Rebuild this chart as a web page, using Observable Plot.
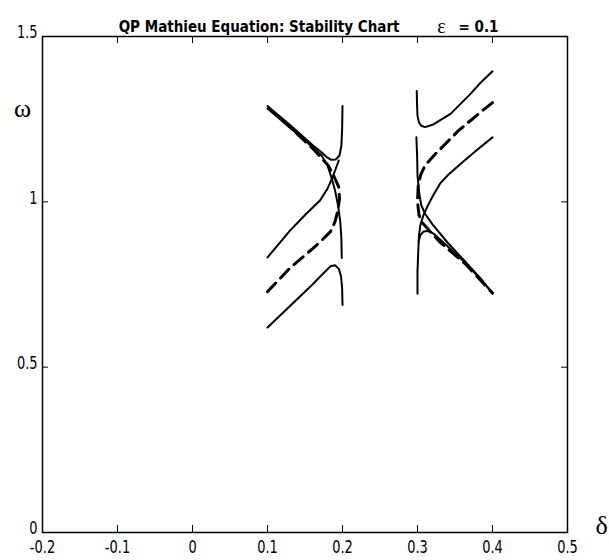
<!DOCTYPE html>
<html>
<head>
<meta charset="utf-8">
<script src="https://cdn.jsdelivr.net/npm/d3@7"></script>
<script src="https://cdn.jsdelivr.net/npm/@observablehq/plot@0.6"></script>
<style>
  html, body { margin: 0; padding: 0; background: #fff; }
</style>
</head>
<body>
<div id="chart"></div>
<script>
// ---- text ----
const titleText = "QP Mathieu Equation: Stability Chart";
const epsSymbol = "ε";
const epsValueText = "= 0.1";
const yAxisSymbol = "ω";
const xAxisSymbol = "δ";

// ---- ticks ----
const xTicks = [-0.2, -0.1, 0, 0.1, 0.2, 0.3, 0.4, 0.5];
const xTickLabels = ["-0.2", "-0.1", "0", "0.1", "0.2", "0.3", "0.4", "0.5"];
const yTicks = [0, 0.5, 1, 1.5];
const yTickLabels = ["0", "0.5", "1", "1.5"];

// ---- curves (delta, omega) ----
// left group (delta 0.1 .. 0.2)
const u1Delta = [0.100, 0.130, 0.160, 0.172, 0.179, 0.185, 0.191, 0.196, 0.1985, 0.1995, 0.200];
const u1Omega = [1.290, 1.232, 1.172, 1.150, 1.135, 1.127, 1.128, 1.140, 1.170, 1.220, 1.290];
const d1Delta = [0.100, 0.130, 0.160, 0.172, 0.180, 0.185, 0.190, 0.194, 0.197, 0.1985, 0.199];
const d1Omega = [1.282, 1.224, 1.166, 1.140, 1.110, 1.075, 1.035, 0.990, 0.940, 0.890, 0.830];
const m1Delta = [0.100, 0.130, 0.150, 0.170, 0.180, 0.186, 0.191, 0.195];
const m1Omega = [0.832, 0.913, 0.960, 1.004, 1.040, 1.070, 1.100, 1.125];
const l1Delta = [0.100, 0.130, 0.160, 0.175, 0.184, 0.190, 0.195, 0.198, 0.1995, 0.200];
const l1Omega = [0.620, 0.685, 0.750, 0.785, 0.805, 0.808, 0.798, 0.775, 0.740, 0.688];
const dash1Delta = [0.100, 0.130, 0.160, 0.172, 0.184, 0.190, 0.194, 0.196, 0.195, 0.188, 0.181, 0.160, 0.130, 0.100];
const dash1Omega = [0.728, 0.800, 0.858, 0.883, 0.910, 0.940, 0.975, 1.010, 1.045, 1.080, 1.110, 1.162, 1.226, 1.286];
// right group (delta 0.3 .. 0.4)
const u2Delta = [0.299, 0.2993, 0.300, 0.302, 0.305, 0.310, 0.320, 0.344, 0.370, 0.384, 0.400];
const u2Omega = [1.335, 1.300, 1.260, 1.240, 1.230, 1.226, 1.233, 1.266, 1.325, 1.360, 1.395];
const v2Delta = [0.2985, 0.2995, 0.300, 0.302, 0.305, 0.310, 0.320, 0.340, 0.364, 0.385, 0.400];
const v2Omega = [1.195, 1.140, 1.080, 1.030, 0.990, 0.964, 0.932, 0.877, 0.818, 0.766, 0.722];
const m2Delta = [0.400, 0.380, 0.360, 0.341, 0.330, 0.321, 0.313, 0.308, 0.304, 0.302, 0.301, 0.300, 0.300];
const m2Omega = [1.195, 1.158, 1.120, 1.082, 1.055, 1.020, 0.985, 0.960, 0.932, 0.900, 0.850, 0.790, 0.722];
const l2Delta = [0.3015, 0.304, 0.308, 0.314, 0.322, 0.340, 0.364, 0.385, 0.400];
const l2Omega = [0.880, 0.900, 0.910, 0.912, 0.903, 0.866, 0.815, 0.764, 0.725];
const dash2Delta = [0.400, 0.384, 0.355, 0.326, 0.310, 0.304, 0.301, 0.300, 0.302, 0.307, 0.330, 0.364, 0.400];
const dash2Omega = [1.300, 1.271, 1.216, 1.150, 1.110, 1.080, 1.050, 1.000, 0.960, 0.935, 0.878, 0.812, 0.724];

const solidCurves = [
  ["U1", u1Delta, u1Omega], ["D1", d1Delta, d1Omega], ["M1", m1Delta, m1Omega], ["L1", l1Delta, l1Omega],
  ["U2", u2Delta, u2Omega], ["V2", v2Delta, v2Omega], ["M2", m2Delta, m2Omega], ["L2", l2Delta, l2Omega]
];
const dashedCurves = [["S1", dash1Delta, dash1Omega], ["S2", dash2Delta, dash2Omega]];

function toRows(curves) {
  const rows = [];
  for (const [name, ds, ws] of curves) ds.forEach((d, i) => rows.push({curve: name, delta: d, omega: ws[i]}));
  return rows;
}
const solidRows = toRows(solidCurves);
const dashedRows = toRows(dashedCurves);

// ---- layout ----
const W = 609, H = 560;
const mL = 42, mR = 42, mT = 36, mB = 28;
const frameW = W - mL - mR, frameH = H - mT - mB;
const sansFont = "'Liberation Sans Narrow', 'Arial Narrow', 'DejaVu Sans Condensed', sans-serif";
const serif = "'Liberation Serif', 'DejaVu Serif', serif";

const chart = Plot.plot({
  width: W, height: H,
  marginLeft: mL, marginRight: mR, marginTop: mT, marginBottom: mB,
  style: {fontFamily: sansFont, fontSize: "18px", color: "black", background: "white"},
  x: {domain: [-0.2, 0.5]},
  y: {domain: [0, 1.5]},
  marks: [
    Plot.frame({stroke: "black", strokeWidth: 1.5}),
    // inward ticks (box style)
    Plot.tickX(xTicks, {x: d => d, insetTop: frameH - 7, stroke: "black"}),
    Plot.tickX(xTicks, {x: d => d, insetBottom: frameH - 7, stroke: "black"}),
    Plot.tickY(yTicks, {y: d => d, insetRight: frameW - 6, stroke: "black"}),
    Plot.tickY(yTicks, {y: d => d, insetLeft: frameW - 6, stroke: "black"}),
    Plot.axisX({ticks: xTicks, tickSize: 0, tickPadding: 8, fontSize: 18, tickFormat: (d) => xTickLabels[xTicks.indexOf(d)], label: null, className: "tk"}),
    Plot.axisY({ticks: yTicks, tickSize: 0, tickPadding: 5, dy: -4, fontSize: 18, tickFormat: (d) => yTickLabels[yTicks.indexOf(d)], label: null, className: "tk"}),
    // curves
    Plot.line(solidRows, {x: "delta", y: "omega", z: "curve", stroke: "black", strokeWidth: 2}),
    Plot.line(dashedRows, {x: "delta", y: "omega", z: "curve", stroke: "black", strokeWidth: 3, strokeDasharray: "12,7"}),
    // title & symbols
    Plot.text([titleText], {text: d => d, frameAnchor: "top-left", dx: 357, dy: -15, textAnchor: "end",
      fontSize: 15, fontWeight: "bold", fontFamily: sansFont, fill: "black"}),
    Plot.text([epsSymbol], {text: d => d, frameAnchor: "top-left", dx: 399, dy: -18, textAnchor: "middle",
      fontSize: 20, fontFamily: serif, fill: "black"}),
    Plot.text([epsValueText], {text: d => d, frameAnchor: "top-left", dx: 416, dy: -15, textAnchor: "start",
      fontSize: 15, fontWeight: "bold", fontFamily: sansFont, fill: "black"}),
    Plot.text([yAxisSymbol], {text: d => d, frameAnchor: "top-left", dx: -20, dy: 62, textAnchor: "middle",
      fontSize: 26, fontFamily: serif, fill: "black"}),
    Plot.text([xAxisSymbol], {text: d => d, frameAnchor: "bottom-right", dx: 34, dy: 1, textAnchor: "middle",
      fontSize: 26, fontFamily: serif, fill: "black"})
  ]
});
document.getElementById("chart").appendChild(chart);

// condense tick labels to mimic the narrow bitmap font of the original
d3.select(chart).selectAll(".tk text").each(function () {
  this.setAttribute("textLength", this.getComputedTextLength() * 0.8);
  this.setAttribute("lengthAdjust", "spacingAndGlyphs");
});
</script>
</body>
</html>
